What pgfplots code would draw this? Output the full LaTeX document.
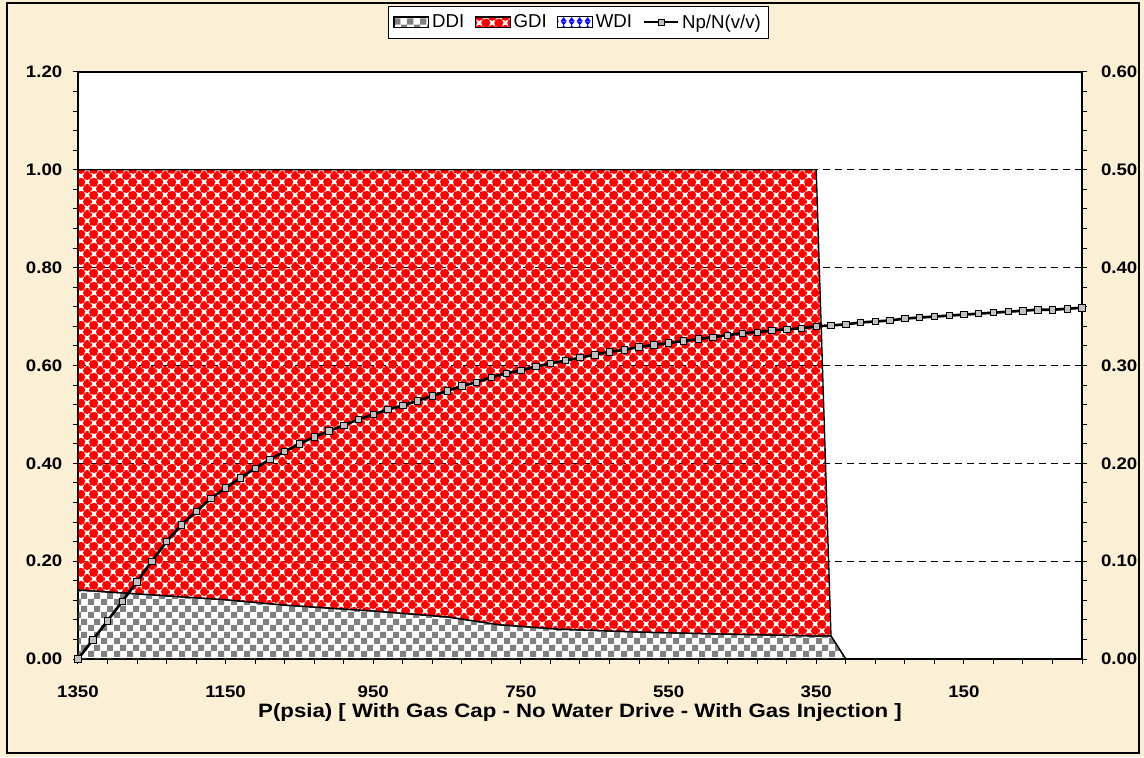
\documentclass[border=0pt]{standalone}
\usepackage{fontspec}
\setmainfont{Liberation Sans}
\newfontfamily\tickfont[FakeStretch=1.12]{Liberation Sans}
\newfontfamily\titlefont[FakeStretch=1.15]{Liberation Sans}
\usepackage{pgfplots}
\usepackage{pgfplotstable}
\pgfplotsset{compat=1.18}
\usetikzlibrary{patterns}

\definecolor{bg}{RGB}{251,239,214}
\definecolor{ddigray}{RGB}{128,128,128}
\definecolor{gdired}{RGB}{255,0,0}
\definecolor{wdiblue}{RGB}{0,0,255}
\definecolor{mkgray}{RGB}{192,192,192}

\pgfdeclarepatternformonly{ddichk}{\pgfpointorigin}{\pgfqpoint{9.4pt}{9.4pt}}{\pgfqpoint{9.4pt}{9.4pt}}{%
  \pgfpathrectangle{\pgfpointorigin}{\pgfqpoint{4.7pt}{4.7pt}}%
  \pgfpathrectangle{\pgfqpoint{4.7pt}{4.7pt}}{\pgfqpoint{4.7pt}{4.7pt}}%
  \pgfusepath{fill}}
\pgfdeclarepatternformonly{gdisph}{\pgfpointorigin}{\pgfqpoint{9.8pt}{9.8pt}}{\pgfqpoint{9.8pt}{9.8pt}}{%
  \pgfpathcircle{\pgfqpoint{2.45pt}{2.45pt}}{3.35pt}%
  \pgfpathcircle{\pgfqpoint{12.25pt}{2.45pt}}{3.35pt}%
  \pgfpathcircle{\pgfqpoint{2.45pt}{12.25pt}}{3.35pt}%
  \pgfpathcircle{\pgfqpoint{12.25pt}{12.25pt}}{3.35pt}%
  \pgfpathcircle{\pgfqpoint{7.35pt}{7.35pt}}{3.35pt}%
  \pgfpathcircle{\pgfqpoint{-2.45pt}{7.35pt}}{3.35pt}%
  \pgfpathcircle{\pgfqpoint{7.35pt}{-2.45pt}}{3.35pt}%
  \pgfpathcircle{\pgfqpoint{-2.45pt}{-2.45pt}}{3.35pt}%
  \pgfusepath{fill}}
\pgfdeclarepatternformonly{wdibow}{\pgfpointorigin}{\pgfqpoint{6pt}{6pt}}{\pgfqpoint{6pt}{6pt}}{%
  \pgfpathmoveto{\pgfqpoint{0.5pt}{6pt}}\pgfpathlineto{\pgfqpoint{5.5pt}{6pt}}\pgfpathlineto{\pgfqpoint{3pt}{3pt}}\pgfpathclose
  \pgfpathmoveto{\pgfqpoint{0.5pt}{0pt}}\pgfpathlineto{\pgfqpoint{5.5pt}{0pt}}\pgfpathlineto{\pgfqpoint{3pt}{3pt}}\pgfpathclose
  \pgfusepath{fill}}

\pgfplotsset{
  arealeg/.style={legend image code/.code={\draw[##1] (0pt,-4pt) rectangle (26pt,4pt);}},
  lineleg/.style={legend image code/.code={\draw[mark repeat=2,mark phase=2,##1] plot coordinates {(0pt,0pt) (13pt,0pt) (26pt,0pt)};}},
}

\pgfplotstableread{
P DDI GDI
1350 0.141 0.859
1250 0.131 0.869
1150 0.121 0.879
1070 0.110 0.890
950 0.098 0.902
850 0.086 0.914
780 0.070 0.930
700 0.061 0.939
590 0.055 0.945
480 0.051 0.949
350 0.047 0.953
330 0.047 0.000
310 0.000 0.000
-10 0.000 0.000
}\areatab

\pgfplotstableread{
P NpN
1350 0.000
1330 0.0195
1310 0.039
1290 0.059
1270 0.079
1250 0.100
1230 0.120
1210 0.137
1190 0.151
1170 0.164
1150 0.175
1130 0.185
1110 0.195
1090 0.204
1070 0.212
1050 0.220
1030 0.227
1010 0.233
990 0.239
970 0.245
950 0.250
930 0.255
910 0.259
890 0.264
870 0.269
850 0.274
830 0.279
810 0.283
790 0.288
770 0.292
750 0.295
730 0.299
710 0.302
690 0.305
670 0.308
650 0.311
630 0.314
610 0.316
590 0.319
570 0.321
550 0.323
530 0.325
510 0.327
490 0.329
470 0.331
450 0.333
430 0.334
410 0.336
390 0.337
370 0.338
350 0.340
330 0.341
310 0.342
290 0.344
270 0.345
250 0.346
230 0.348
210 0.349
190 0.350
170 0.351
150 0.352
130 0.353
110 0.354
90 0.355
70 0.356
50 0.357
30 0.357
10 0.358
-10 0.359
}\nptab

\begin{document}
\begin{tikzpicture}[x=1pt,y=1pt]
\path[use as bounding box] (0,0) rectangle (858,567.75);
\fill[bg] (0,0) rectangle (858,567.75);
\draw[black, line width=1pt] (5.25,3) rectangle (854.25,565.5);

\begin{axis}[
  at={(58.5pt,73.5pt)}, anchor=south west,
  scale only axis, width=753pt, height=440.25pt,
  x dir=reverse, xmin=-10, xmax=1350, ymin=0, ymax=1.2,
  axis background/.style={fill=white},
  axis line style={black, line width=0.9pt},
  stack plots=y,
  xtick={1350,1150,950,750,550,350,150},
  xticklabels={1350,1150,950,750,550,350,150},
  minor xtick={1350,1310,...,-10},
  ytick={0,0.2,0.4,0.6,0.8,1.0,1.2},
  minor y tick num=4,
  tick pos=left, tick align=outside,
  major tick length=3.75pt, minor tick length=3.75pt,
  every tick/.style={black, line width=0.75pt},
  ymajorgrids,
  grid style={black, line width=0.75pt, dash pattern=on 5pt off 4pt},
  /pgf/number format/assume math mode=true,
  /pgf/number format/fixed, /pgf/number format/fixed zerofill, /pgf/number format/precision=2,
  tick label style={font=\tickfont\fontsize{12.5}{15}\selectfont\bfseries},
  yticklabel style={anchor=east, xshift=-4.5pt},
  xticklabel style={anchor=north, yshift=-13pt},
  xlabel={P(psia) [ With Gas Cap - No Water Drive - With Gas Injection ]},
  xlabel style={font=\titlefont\fontsize{14.5}{16}\selectfont\bfseries, at={(axis description cs:0.5,-0.0903)}, anchor=center},
  legend columns=-1,
  legend style={at={(axis description cs:0.4985,1.1124)}, anchor=north,
    draw=black, fill=white, line width=0.75pt,
    font=\fontsize{14}{16}\selectfont, inner xsep=4pt, inner ysep=4pt,
    /tikz/every even column/.append style={column sep=6pt}},
]
\addplot[arealeg, draw=black, line width=1pt, pattern=ddichk, pattern color=ddigray] table[x=P,y=DDI]{\areatab} \closedcycle;
\addlegendentry{DDI}
\addplot[arealeg, draw=black, line width=1pt, pattern=gdisph, pattern color=gdired] table[x=P,y=GDI]{\areatab} \closedcycle;
\addlegendentry{GDI}
\addlegendimage{arealeg, draw=black, line width=0.75pt, pattern=wdibow, pattern color=wdiblue}
\addlegendentry{WDI}
\addlegendimage{lineleg, black, line width=1.5pt, mark=square*, mark size=2.2pt, mark options={fill=mkgray, draw=black, line width=0.6pt}}
\addlegendentry{Np/N(v/v)}
\end{axis}

\begin{axis}[
  at={(58.5pt,73.5pt)}, anchor=south west,
  scale only axis, width=753pt, height=440.25pt,
  x dir=reverse, xmin=-10, xmax=1350, ymin=0, ymax=0.6,
  axis x line=none, axis y line*=right,
  axis line style={black, line width=0.9pt},
  clip=false,
  ytick={0,0.1,0.2,0.3,0.4,0.5,0.6},
  minor y tick num=4,
  tick align=outside,
  major tick length=3.75pt, minor tick length=3.75pt,
  every tick/.style={black, line width=0.75pt},
  /pgf/number format/assume math mode=true,
  /pgf/number format/fixed, /pgf/number format/fixed zerofill, /pgf/number format/precision=2,
  tick label style={font=\tickfont\fontsize{12.5}{15}\selectfont\bfseries},
  yticklabel style={anchor=west, xshift=7pt},
]
\addplot[black, line width=2pt, mark=square*, mark size=2.4pt, mark options={fill=mkgray, draw=black, line width=0.6pt, solid}] table[x=P,y=NpN]{\nptab};
\end{axis}
\end{tikzpicture}
\end{document}
